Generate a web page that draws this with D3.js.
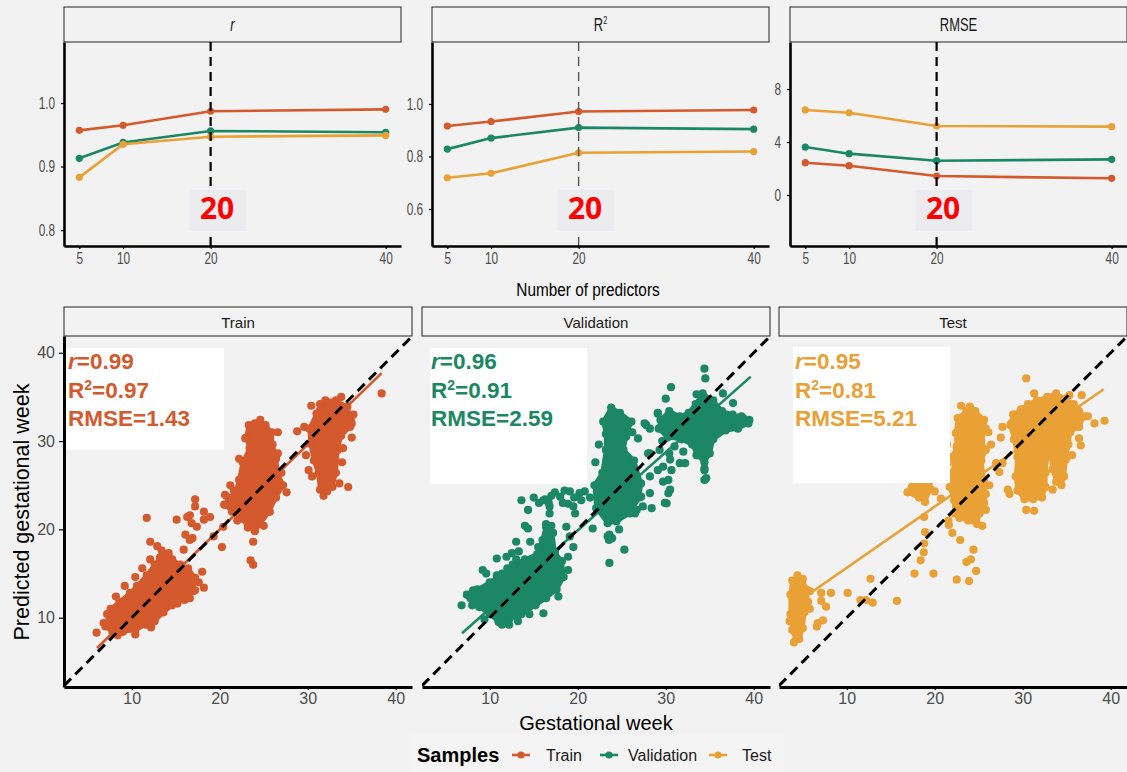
<!DOCTYPE html>
<html>
<head>
<meta charset="utf-8">
<script src="https://cdn.jsdelivr.net/npm/d3@7"></script>
<style>
  html, body { margin: 0; padding: 0; background: #f2f2f2; }
  svg { display: block; }
</style>
</head>
<body>
<svg id="chart" width="1127" height="772"></svg>
<script>
// ---------------- data ----------------
const sampleNames = ["Train", "Validation", "Test"];
const sampleColors = ["#d4592c", "#1b8764", "#e9a035"];

const predictors = [5, 10, 20, 40];
const bestPredictors = 20;

const rTrain = [0.957, 0.965, 0.987, 0.990];
const rValidation = [0.913, 0.938, 0.956, 0.954];
const rTest = [0.883, 0.935, 0.947, 0.949];

const r2Train = [0.916, 0.933, 0.971, 0.977];
const r2Validation = [0.828, 0.870, 0.910, 0.904];
const r2Test = [0.719, 0.736, 0.814, 0.819];

const rmseTrain = [2.44, 2.21, 1.43, 1.26];
const rmseValidation = [3.62, 3.12, 2.59, 2.69];
const rmseTest = [6.42, 6.21, 5.21, 5.16];

const rTicks = [0.8, 0.9, 1.0];
const r2Ticks = [0.6, 0.8, 1.0];
const rmseTicks = [0, 4, 8];
const predictorTicks = [5, 10, 20, 40];
const weekTicks = [10, 20, 30, 40];

// observed vs predicted gestational week: dense cores (outlines of packed points) and sparse points
const trainCores = [
  [[7.0,9.0],[7.6,11.0],[8.6,11.8],[9.8,12.8],[10.6,13.6],[11.7,14.8],[12.6,16.0],[13.2,16.8],[14.0,17.2],[14.6,16.6],[15.5,16.0],[16.4,15.6],[17.2,14.5],[17.0,13.0],[15.8,12.4],[14.6,11.4],[13.6,10.6],[12.6,9.6],[11.6,9.2],[10.4,8.6],[9.0,8.4],[7.8,8.4]],
  [[23.3,31.8],[24.0,32.0],[25.2,31.8],[25.9,31.0],[26.0,29.6],[26.4,28.0],[26.6,26.4],[27.2,25.0],[26.4,23.6],[25.6,22.0],[24.6,20.6],[24.0,19.8],[23.2,20.2],[22.6,21.2],[21.4,22.0],[20.6,22.8],[21.0,23.6],[21.8,24.2],[22.2,25.6],[22.6,27.6],[23.4,29.2],[23.0,30.4]],
  [[31.4,34.2],[32.0,34.6],[33.2,34.6],[34.5,33.9],[34.9,32.6],[34.8,31.6],[33.8,30.6],[33.4,29.0],[33.2,26.4],[32.8,24.8],[32.2,24.3],[31.4,24.5],[31.2,26.3],[30.7,27.8],[30.3,29.7],[30.2,31.4],[31.0,33.1]]
];
const trainPoints = [
  [6.0,8.3],[10.4,8.1],[11.7,21.3],[12.1,18.6],[12.9,18.1],[12.1,16.6],[15.1,21.1],[17.2,23.4],[17.2,22.6],[16.6,21.6],
  [16.3,21.4],[18.2,22.0],[18.9,21.4],[18.2,21.1],[17.4,20.3],[16.8,20.7],[16.1,19.4],[16.6,18.8],[16.9,19.0],[15.9,17.7],
  [19.3,19.2],[20.25,18.0],[20.6,23.9],[20.5,22.8],[21.4,23.1],[20.4,20.3],[17.0,14.3],[17.2,13.1],[16.6,12.2],[15.5,13.7],
  [23.8,18.6],[23.5,16.5],[23.8,16.0],[25.7,22.0],[22.9,30.3],[28.8,31.1],[30.1,26.7],[30.5,26.0],[34.6,24.8],[38.4,35.4],
  [34.8,32.9],[34.6,31.6],[35.0,32.0],[13.4,17.6],[14.2,17.3],[11.2,15.6],[10.4,14.6],[9.2,13.6],[8.2,12.4],[7.2,10.4],
  [6.8,9.4],[18.0,15.2],[17.6,14.0],[16.0,12.0],[21.6,24.4],[27.0,26.4],[26.6,28.6],[26.6,31.0],[24.6,32.4],[22.2,28.0],
  [35.2,33.0],[29.6,31.6],[30.4,34.0],[33.8,35.0],[35.0,30.4],[34.0,29.2],[8.4,8.0],[12.2,8.9],[15.2,11.6],[18.2,13.4],
  [22.0,21.0],[25.0,20.4],[27.6,24.2],[21.2,25.0],[31.8,23.8],[33.6,25.2],[29.8,28.4],[33.9,27.6]
];
const trainFit = [[6.05, 6.57], [38.4, 37.7]];

const validationCores = [
  [[7.8,12.2],[8.6,13.2],[10.0,14.0],[11.4,15.0],[12.6,16.0],[14.0,16.6],[15.4,17.2],[16.0,18.8],[16.4,20.6],[17.0,20.4],[17.4,17.4],[18.2,16.4],[18.4,14.6],[17.6,13.2],[16.4,12.2],[15.2,11.4],[13.6,10.4],[12.2,9.8],[11.0,9.5],[10.0,10.4],[8.8,11.2]],
  [[22.9,32.2],[23.8,33.8],[24.8,33.2],[26.1,32.2],[25.5,30.5],[25.2,29.0],[26.4,27.8],[27.2,25.2],[27.0,23.6],[25.9,21.8],[24.4,20.9],[23.4,20.7],[22.1,22.4],[21.9,25.0],[22.8,26.4],[23.2,29.0],[23.2,30.8]],
  [[29.2,31.4],[29.4,32.4],[30.4,33.4],[31.6,32.8],[32.6,33.2],[33.4,34.2],[34.2,35.4],[35.4,34.6],[36.4,33.4],[37.6,33.0],[38.8,32.6],[39.4,32.0],[38.2,31.4],[36.8,31.2],[35.4,30.2],[35.0,28.6],[34.4,27.6],[33.6,28.4],[33.0,29.6],[31.8,30.2],[30.2,30.4]]
];
const validationPoints = [
  [6.8,11.4],[8.1,13.1],[9.6,15.0],[10.8,16.7],[13.6,23.3],[14.35,22.2],[15.0,23.6],[15.6,23.0],[16.3,23.4],[16.8,22.6],
  [17.4,24.2],[18.0,23.7],[18.5,24.4],[19.1,24.3],[19.6,23.6],[20.2,24.1],[20.8,24.3],[19.5,22.6],[18.9,22.9],[19.7,21.8],
  [18.3,23.0],[17.0,23.8],[20.4,23.3],[16.4,20.3],[16.8,21.8],[16.7,23.0],[16.1,23.3],[16.6,19.0],[17.2,19.6],[18.7,20.3],
  [19.1,19.2],[19.5,18.0],[18.9,16.9],[18.9,15.4],[14.35,20.1],[14.0,20.4],[13.0,18.6],[12.5,17.3],[13.3,17.5],[15.5,18.0],
  [14.6,18.6],[11.9,16.9],[16.1,10.5],[14.5,10.4],[12.2,9.2],[11.4,9.2],[21.7,20.1],[23.4,19.2],[23.55,18.8],[23.6,16.2],
  [25.3,17.7],[24.7,20.0],[23.6,19.4],[23.9,19.0],[10.4,10.6],[7.4,12.6],[8.0,11.4],[9.2,15.4],[12.0,15.6],[13.0,16.6],
  [10.8,14.8],[34.4,38.2],[34.5,37.1],[30.6,36.1],[30.0,34.8],[29.1,33.1],[33.5,35.3],[37.65,34.3],[38.6,32.8],[39.5,32.4],
  [34.4,25.6],[34.4,26.7],[33.5,28.4],[32.2,27.5],[30.3,24.1],[30.1,22.95],[28.2,26.0],[26.85,30.3],[27.6,32.0],[28.2,28.6],
  [27.4,22.6],[26.7,22.2],[28.4,22.4],[29.1,26.7],[29.7,25.4],[27.8,31.8],[28.2,31.4],[29.1,33.2],[28.0,28.6],[29.3,29.0],
  [30.5,27.9],[29.7,27.1],[30.65,26.7],[30.3,25.6],[30.5,24.5],[31.6,27.5],[34.4,26.9],[34.6,25.8],[28.2,24.1],[27.2,23.7],
  [26.5,21.8],[29.9,23.0],[36.5,35.4],[37.7,32.8],[31.0,29.4],[32.0,28.8],[30.4,28.6],[29.6,30.0],[22.0,27.6],[22.4,29.6],
  [26.2,31.0],[26.0,26.6],[21.4,23.6],[9.4,9.8],[13.2,9.6],[17.8,12.4]
];
const validationFit = [[6.85, 8.23], [39.66, 37.3]];

const testCores = [
  [[3.8,14.2],[4.4,14.8],[5.0,14.4],[5.4,13.2],[5.6,11.8],[5.2,10.6],[5.0,8.8],[4.6,7.6],[4.2,7.5],[3.8,8.6],[3.6,10.4],[3.6,12.6]],
  [[22.6,32.6],[23.6,33.4],[24.6,33.4],[25.6,32.4],[25.8,31.4],[25.3,30.1],[25.8,29.0],[25.3,27.8],[25.6,25.6],[25.8,24.0],[25.6,23.0],[25.1,21.8],[24.8,20.6],[23.8,21.0],[22.8,21.3],[22.2,21.8],[22.2,23.3],[21.7,24.8],[22.2,26.6],[22.0,28.2],[22.5,29.4],[22.4,30.9]],
  [[28.9,33.0],[29.8,33.6],[30.6,34.2],[31.6,34.6],[32.8,35.0],[33.8,35.4],[34.8,34.8],[35.8,34.2],[36.4,33.4],[37.0,32.8],[36.4,31.6],[35.4,31.0],[35.2,29.6],[34.9,27.9],[34.7,26.0],[34.4,25.0],[33.8,25.4],[33.4,26.8],[33.2,28.6],[32.8,28.2],[32.6,26.4],[32.6,24.8],[32.2,23.6],[31.2,23.4],[30.2,23.4],[29.4,24.4],[29.2,26.0],[29.4,28.2],[29.0,30.2],[28.6,31.8]],
  [[16.9,24.2],[17.6,25.8],[19.6,26.0],[19.5,24.6],[18.9,23.1],[18.2,23.6]]
];
const testPoints = [
  [7.1,12.8],[8.2,12.8],[7.1,11.9],[7.65,11.25],[6.7,9.4],[7.3,9.7],[6.6,9.0],[10.1,12.8],[12.7,14.4],[11.55,12.0],
  [12.2,12.0],[12.95,11.7],[15.7,11.9],[17.7,15.0],[19.85,15.0],[18.4,16.5],[18.75,17.4],[18.8,18.4],[18.9,19.7],[18.8,21.4],
  [22.5,14.3],[23.9,14.15],[22.9,18.8],[24.4,17.7],[23.6,16.3],[24.1,16.6],[24.7,15.3],[21.55,21.0],[20.0,24.3],[20.7,23.5],
  [21.7,26.2],[30.4,37.1],[31.3,35.4],[35.3,35.2],[36.7,35.2],[37.4,32.8],[39.3,32.3],[38.15,32.0],[36.4,30.3],[36.6,29.5],
  [27.35,26.5],[28.3,24.5],[28.5,24.0],[30.4,22.2],[31.3,22.1],[33.4,24.5],[34.2,25.8],[26.97,27.5],[27.7,27.5],[27.5,30.4],
  [29.0,33.0],[27.7,31.6],[28.7,32.0],[21.6,20.5],[22.0,19.6],[25.4,20.4],[25.8,22.2],[26.2,25.0],[21.4,27.4],[21.4,29.6],
  [26.1,31.0],[23.0,34.0],[24.0,33.9],[35.5,32.0],[36.0,33.6],[5.8,13.0],[5.8,11.0],[3.5,9.6],[4.0,7.2],[35.6,28.4],
  [33.0,29.4],[30.0,29.0],[26.4,29.6]
];
const testFit = [[5.1, 12.26], [39.2, 35.87]];

// ---------------- drawing ----------------
const svg = d3.select("#chart");
svg.append("rect").attr("width", 1127).attr("height", 772).attr("fill", "#f2f2f2");

const SANS = "'Liberation Sans', Arial, Helvetica, sans-serif";
const BOLD = "'Open Sans', 'Noto Sans', sans-serif";
const bestIndex = predictors.indexOf(bestPredictors);

// --- metric vs number of predictors ---
const topW = 337, stripTop = 7, stripBottom = 42, plotBottom = 246;
const xTop = d3.scaleLinear().domain([3.25, 41.75]).range([0, topW]);

const topPanels = [
  { key: "r", series: [rTrain, rValidation, rTest], domain: [0.775, 1.096], ticks: rTicks,
    fmt: d3.format(".1f"), left: 64, guide: "#000", guideW: 2.2, dash: "9,6" },
  { key: "R2", series: [r2Train, r2Validation, r2Test], domain: [0.459, 1.236], ticks: r2Ticks,
    fmt: d3.format(".1f"), left: 432, guide: "#555", guideW: 1.4, dash: "9,6" },
  { key: "RMSE", series: [rmseTrain, rmseValidation, rmseTest], domain: [-3.85, 11.55], ticks: rmseTicks,
    fmt: d3.format("d"), left: 790, guide: "#000", guideW: 2.2, dash: "9,6" }
];

topPanels.forEach(p => {
  const g = svg.append("g").attr("transform", `translate(${p.left},0)`);
  const y = d3.scaleLinear().domain(p.domain).range([plotBottom, stripBottom]);

  // strip
  g.append("rect").attr("x", 0).attr("y", stripTop).attr("width", topW)
    .attr("height", stripBottom - stripTop).attr("fill", "#f2f2f2")
    .attr("stroke", "#222").attr("stroke-width", 1);
  const lab = g.append("text")
    .attr("transform", `translate(${topW / 2},31) scale(0.72,1)`)
    .attr("text-anchor", "middle").attr("font-family", SANS).attr("font-size", 18)
    .attr("fill", "#1a1a1a");
  if (p.key === "r") {
    lab.append("tspan").attr("font-style", "italic").text("r");
  } else if (p.key === "R2") {
    lab.append("tspan").text("R");
    lab.append("tspan").attr("font-size", 10).attr("dy", -7).text("2");
  } else {
    lab.text(p.key);
  }

  // series lines and points
  const line = d3.line().x((d, i) => xTop(predictors[i])).y(d => y(d));
  p.series.forEach((vals, s) => {
    g.append("path").datum(vals).attr("d", line).attr("fill", "none")
      .attr("stroke", sampleColors[s]).attr("stroke-width", 2.6);
    g.selectAll(null).data(vals).enter().append("circle")
      .attr("cx", (d, i) => xTop(predictors[i])).attr("cy", d => y(d))
      .attr("r", 3.6).attr("fill", sampleColors[s]);
  });

  // chosen number of predictors
  g.append("line").attr("x1", xTop(bestPredictors)).attr("x2", xTop(bestPredictors))
    .attr("y1", stripBottom).attr("y2", plotBottom)
    .attr("stroke", p.guide).attr("stroke-width", p.guideW).attr("stroke-dasharray", p.dash);
  g.append("rect").attr("x", xTop(bestPredictors) - 21).attr("y", 190)
    .attr("width", 56).attr("height", 41).attr("fill", "#ebebf0");
  g.append("text").attr("x", xTop(bestPredictors) + 6.5).attr("y", 218.5)
    .attr("text-anchor", "middle").attr("font-family", BOLD).attr("font-weight", 700)
    .attr("font-size", 30).attr("fill", "#ff0000").text(String(bestPredictors));

  // axes
  const ya = g.append("g").call(d3.axisLeft(y).tickValues(p.ticks).tickFormat(p.fmt)
      .tickSize(3).tickPadding(9).tickSizeOuter(0))
    .attr("font-family", SANS).attr("font-size", 16);
  const xa = g.append("g").attr("transform", `translate(0,${plotBottom})`)
    .call(d3.axisBottom(xTop).tickValues(predictorTicks).tickSize(3).tickPadding(4).tickSizeOuter(0))
    .attr("font-family", SANS).attr("font-size", 16);
  [ya, xa].forEach(a => {
    a.select(".domain").attr("stroke", "#000").attr("stroke-width", 2.6);
    a.selectAll(".tick line").attr("stroke", "#000").attr("stroke-width", 1.2);
    a.selectAll(".tick text").attr("fill", "#4d4d4d").attr("transform", "scale(0.74,1)");
  });
});

svg.append("text").attr("transform", "translate(588,296) scale(0.83,1)")
  .attr("text-anchor", "middle").attr("font-family", SANS).attr("font-size", 18.5)
  .attr("fill", "#000").text("Number of predictors");

// --- observed vs predicted scatter ---
const bW = 348, bStripTop = 307, bStripBottom = 336, bPlotBottom = 687;
const xS = d3.scaleLinear().domain([2.3, 41.85]).range([0, bW]);
const yS = d3.scaleLinear().domain([2.15, 41.9]).range([bPlotBottom, bStripBottom]);
const dotR = 4.1;

const scatterPanels = [
  { s: 0, cores: trainCores, points: trainPoints, fit: trainFit, left: 64, box: [2, 348, 158, 102], tx: 4,
    stats: [rTrain[bestIndex], r2Train[bestIndex], rmseTrain[bestIndex]] },
  { s: 1, cores: validationCores, points: validationPoints, fit: validationFit, left: 422, box: [8, 348, 157, 136], tx: 9,
    stats: [rValidation[bestIndex], r2Validation[bestIndex], rmseValidation[bestIndex]] },
  { s: 2, cores: testCores, points: testPoints, fit: testFit, left: 779, box: [14, 347, 157, 136], tx: 16,
    stats: [rTest[bestIndex], r2Test[bestIndex], rmseTest[bestIndex]] }
];

const coreLine = d3.line().x(d => xS(d[0])).y(d => yS(d[1])).curve(d3.curveLinearClosed);

scatterPanels.forEach((p, i) => {
  const col = sampleColors[p.s];
  const g = svg.append("g").attr("transform", `translate(${p.left},0)`);
  const clipId = "clip" + i;
  g.append("clipPath").attr("id", clipId).append("rect")
    .attr("x", 0).attr("y", bStripBottom).attr("width", bW).attr("height", bPlotBottom - bStripBottom);

  g.append("rect").attr("x", 0).attr("y", bStripTop).attr("width", bW)
    .attr("height", bStripBottom - bStripTop).attr("fill", "#f2f2f2")
    .attr("stroke", "#222").attr("stroke-width", 1);
  g.append("text").attr("x", bW / 2).attr("y", 327.5).attr("text-anchor", "middle")
    .attr("font-family", SANS).attr("font-size", 15).attr("fill", "#1a1a1a")
    .text(sampleNames[p.s]);

  const plot = g.append("g").attr("clip-path", `url(#${clipId})`);

  // packed point clouds: outline through the outermost dot centres
  plot.selectAll(null).data(p.cores).enter().append("path")
    .attr("d", coreLine).attr("fill", col).attr("stroke", col)
    .attr("stroke-width", dotR).attr("stroke-linejoin", "round");
  const edgeDots = p.cores.flat();
  plot.selectAll(null).data(edgeDots.concat(p.points)).enter().append("circle")
    .attr("cx", d => xS(d[0])).attr("cy", d => yS(d[1])).attr("r", dotR).attr("fill", col);

  // fitted line
  plot.append("line")
    .attr("x1", xS(p.fit[0][0])).attr("y1", yS(p.fit[0][1]))
    .attr("x2", xS(p.fit[1][0])).attr("y2", yS(p.fit[1][1]))
    .attr("stroke", col).attr("stroke-width", 2.6);

  // identity line
  const lo = Math.max(xS.domain()[0], yS.domain()[0]);
  const hi = Math.min(xS.domain()[1], yS.domain()[1]);
  plot.append("line").attr("x1", xS(lo)).attr("y1", yS(lo)).attr("x2", xS(hi)).attr("y2", yS(hi))
    .attr("stroke", "#000").attr("stroke-width", 3).attr("stroke-dasharray", "10,6");

  // statistics box
  g.append("rect").attr("x", p.box[0]).attr("y", p.box[1]).attr("width", p.box[2])
    .attr("height", p.box[3]).attr("fill", "#ffffff");
  const st = g.append("g").attr("font-family", SANS).attr("font-weight", 700)
    .attr("font-size", 22.5).attr("fill", col);
  const t1 = st.append("text").attr("x", p.tx).attr("y", 369);
  t1.append("tspan").attr("font-style", "italic").text("r");
  t1.append("tspan").text("=" + p.stats[0].toFixed(2));
  const t2 = st.append("text").attr("x", p.tx).attr("y", 397.5);
  t2.append("tspan").text("R");
  t2.append("tspan").attr("font-size", 14).attr("dy", -8).text("2");
  t2.append("tspan").attr("dy", 8).text("=" + p.stats[1].toFixed(2));
  st.append("text").attr("x", p.tx).attr("y", 425.5).text("RMSE=" + p.stats[2].toFixed(2));

  // axes
  const xa = g.append("g").attr("transform", `translate(0,${bPlotBottom})`)
    .call(d3.axisBottom(xS).tickValues(weekTicks).tickSize(3).tickPadding(3).tickSizeOuter(0))
    .attr("font-family", SANS).attr("font-size", 16);
  const axes = [xa];
  if (i === 0) {
    const ya = g.append("g")
      .call(d3.axisLeft(yS).tickValues(weekTicks).tickSize(5).tickPadding(4).tickSizeOuter(0))
      .attr("font-family", SANS).attr("font-size", 16);
    axes.push(ya);
  }
  axes.forEach(a => {
    a.select(".domain").attr("stroke", "#000").attr("stroke-width", 3);
    a.selectAll(".tick line").attr("stroke", "#000").attr("stroke-width", 1.2);
    a.selectAll(".tick text").attr("fill", "#4d4d4d");
  });
});

svg.append("text").attr("transform", "translate(28.5,512) rotate(-90)")
  .attr("text-anchor", "middle").attr("font-family", SANS).attr("font-size", 21.5)
  .attr("fill", "#000").text("Predicted gestational week");
svg.append("text").attr("x", 596).attr("y", 730).attr("text-anchor", "middle")
  .attr("font-family", SANS).attr("font-size", 20).attr("fill", "#000").text("Gestational week");

// --- legend ---
const legend = svg.append("g");
legend.append("rect").attr("x", 410).attr("y", 735).attr("width", 374).attr("height", 37).attr("fill", "#f4f4f4");
legend.append("text").attr("x", 417).attr("y", 762).attr("font-family", SANS)
  .attr("font-weight", 700).attr("font-size", 20).attr("fill", "#000").text("Samples");
const keyX = [521, 609, 718];
const keyTextX = [546, 628, 742];
sampleNames.forEach((name, s) => {
  legend.append("line").attr("x1", keyX[s] - 9).attr("x2", keyX[s] + 9)
    .attr("y1", 755).attr("y2", 755).attr("stroke", sampleColors[s]).attr("stroke-width", 2.6);
  legend.append("circle").attr("cx", keyX[s]).attr("cy", 755).attr("r", 3.6).attr("fill", sampleColors[s]);
  legend.append("text").attr("x", keyTextX[s]).attr("y", 761).attr("font-family", SANS)
    .attr("font-size", 16).attr("fill", "#1a1a1a").text(name);
});
</script>
</body>
</html>
